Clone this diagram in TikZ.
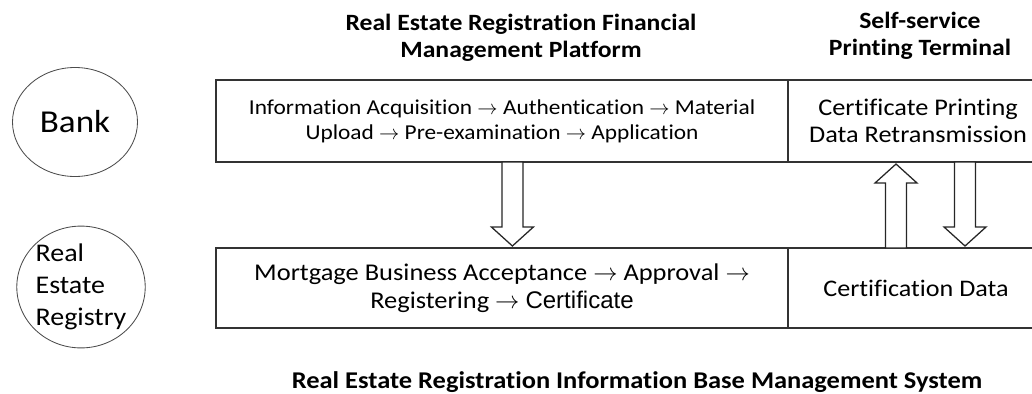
\documentclass[tikz,border=0pt]{standalone}
\usepackage{fontspec}
\setmainfont{Carlito}[FakeStretch=1.1, Ligatures=NoCommon]
\newfontfamily\arialfont{Liberation Sans}
\usetikzlibrary{shapes.geometric, positioning}

\tikzset{
  stage/.style={draw=black!80, line width=0.9pt, inner sep=0pt, outer sep=0pt, align=center},
  party/.style={ellipse, draw=black!70, line width=0.6pt, inner sep=0pt},
  heading/.style={font=\bfseries\fontsize{16.6}{19.2}\selectfont, align=center},
  hollow/.style={draw=black!85, line width=0.9pt, fill=white, line join=miter},
  pics/hollow arrow/.style={code={
    \draw[hollow] (-10.5,0) -- (-10.5,65) -- (-21,65) -- (0,84) -- (21,65) -- (10.5,65) -- (10.5,0) -- cycle;
  }}
}

\begin{document}
\begin{tikzpicture}[x=0.25mm, y=-0.25mm]
  \useasboundingbox (0,0) rectangle (1032,393);

  % Parties on the left
  \node[party, minimum width=31.25mm, minimum height=27.25mm,
        font=\fontsize{22.7}{26}\selectfont] (bank) at (75,122) {Bank};
  \node[party, minimum width=31.5mm, minimum height=27.25mm, align=left,
        font=\fontsize{18.1}{22.8}\selectfont] (registry) at (81,287) {Real\\Estate\\Registry};

  % Financial management platform row
  \node[stage, minimum width=143mm, minimum height=20.5mm,
        font=\fontsize{15.1}{17.8}\selectfont] (flow) at (502,121)
    {Information Acquisition $\rightarrow$ Authentication $\rightarrow$ Material\\
     Upload $\rightarrow$ Pre-examination $\rightarrow$ Application};
  \node[stage, minimum width=65mm, minimum height=20.5mm, right=0pt of flow,
        font=\fontsize{17}{19.2}\selectfont] (print)
    {Certificate Printing\\Data Retransmission};

  % Information base row
  \node[stage, minimum width=143mm, minimum height=20mm,
        font=\fontsize{17.1}{19.9}\selectfont] (accept) at (502,288)
    {Mortgage Business Acceptance $\rightarrow$ Approval $\rightarrow$\\
     Registering $\rightarrow$ {\arialfont Certificate}};
  \node[stage, minimum width=64mm, minimum height=20mm, right=0pt of accept,
        font=\fontsize{16.9}{19.9}\selectfont] (certdata) {Certification Data};

  % Headings
  \node[heading] (platform) at (521,38)
    {Real Estate Registration Financial\\Management Platform};
  \node[heading] (terminal) at (920,36) {Self-service\\Printing Terminal};
  \node[heading, font=\bfseries\fontsize{17.1}{19.2}\selectfont] (basesys) at (637,382)
    {Real Estate Registration Information Base Management System};

  % Hollow block arrows between the rows
  \pic at ([xshift=2.6mm]flow.south) {hollow arrow};
  \pic[rotate=180] at ([xshift=-5mm]certdata.north) {hollow arrow};
  \pic at ([xshift=11.75mm]print.south) {hollow arrow};
\end{tikzpicture}
\end{document}
